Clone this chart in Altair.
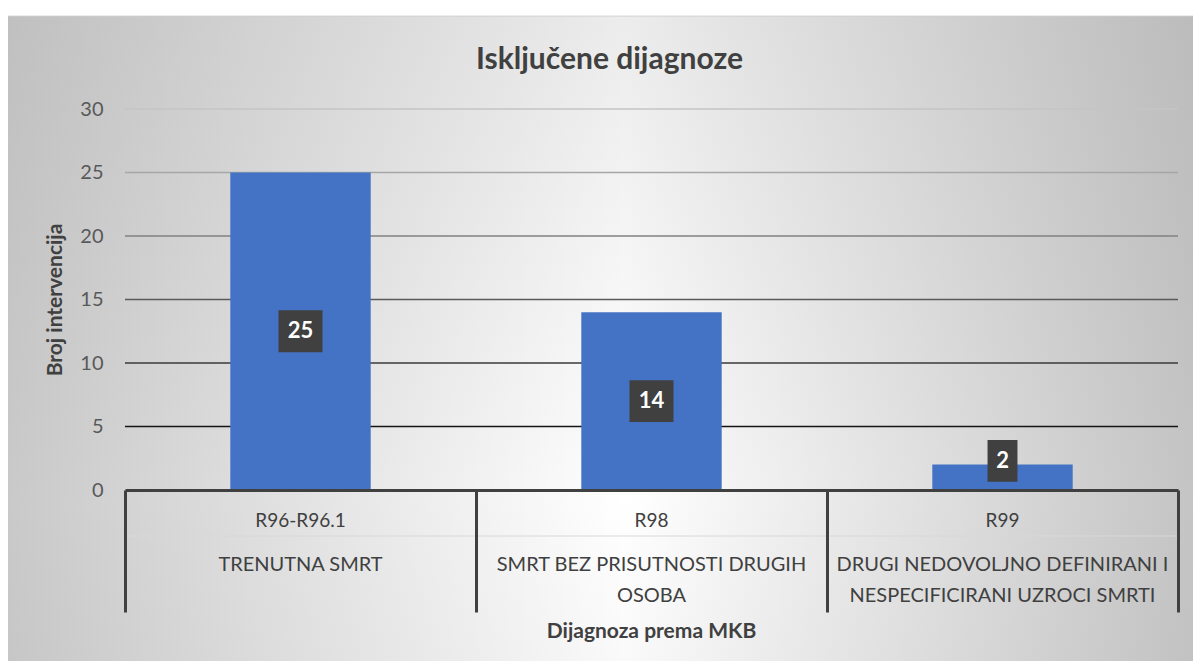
import altair as alt
import pandas as pd

codes = ["R96-R96.1", "R98", "R99"]
descriptions = [
    "TRENUTNA SMRT",
    "SMRT BEZ PRISUTNOSTI DRUGIH\nOSOBA",
    "DRUGI NEDOVOLJNO DEFINIRANI I\nNESPECIFICIRANI UZROCI SMRTI",
]
values = [25, 14, 2]
y_ticks = [0, 5, 10, 15, 20, 25, 30]

title_text = "Isključene dijagnoze"
y_title = "Broj intervencija"
x_title = "Dijagnoza prema MKB"

FONT = "Lato"
W, H = 1053, 381

df = pd.DataFrame({"code": codes, "desc": descriptions, "value": values})
df["ndig"] = [str(len(str(v))) for v in values]
grid_df = pd.DataFrame({"tick": y_ticks[1:]})

xscale = alt.Scale(domain=codes, paddingInner=0, paddingOuter=0)
yscale = alt.Scale(domain=[0, 30], nice=False)

one = alt.Data(values=[{"a": 1}])

bg_h = alt.Chart(one).mark_rect(
    fill=alt.LinearGradient(
        gradient="linear", x1=0, x2=1, y1=0, y2=0,
        stops=[alt.GradientStop(offset=0, color="#c9c9c9"),
               alt.GradientStop(offset=0.52, color="#ffffff"),
               alt.GradientStop(offset=1, color="#c4c4c4")]),
    stroke="#d9d9d9", strokeWidth=1,
).encode(x=alt.value(-120), x2=alt.value(1071), y=alt.value(-93), y2=alt.value(554))

bg_v = alt.Chart(one).mark_rect(
    fill=alt.LinearGradient(
        gradient="linear", x1=0, x2=0, y1=0, y2=1,
        stops=[alt.GradientStop(offset=0, color="rgba(150,150,150,0.18)"),
               alt.GradientStop(offset=0.75, color="rgba(150,150,150,0)"),
               alt.GradientStop(offset=1, color="rgba(150,150,150,0.05)")]),
).encode(x=alt.value(-120), x2=alt.value(1071), y=alt.value(-93), y2=alt.value(554))

grid = alt.Chart(grid_df).mark_rule(strokeWidth=1.6).encode(
    y=alt.Y("tick:Q", scale=yscale),
    x=alt.value(0), x2=alt.value(W),
    color=alt.Color("tick:Q", legend=None,
                    scale=alt.Scale(domain=[5, 10, 15, 20, 25, 30],
                                    range=["#151515", "#3a3a3a", "#5a5a5a", "#808080", "#a6a6a6", "#c4c4c4"])),
)

bars = alt.Chart(df).mark_bar(color="#4472C4", width={"band": 0.4}).encode(
    x=alt.X("code:N", scale=xscale, sort=codes,
            axis=alt.Axis(labels=False, title=None, ticks=True, tickBand="extent",
                          tickSize=122, tickWidth=3, tickColor="#404040",
                          domainColor="#404040", domainWidth=3, grid=False, zindex=1)),
    y=alt.Y("value:Q", scale=yscale,
            axis=alt.Axis(values=y_ticks, labelFontSize=20, labelColor="#595959",
                          labelFont=FONT, labelPadding=22, ticks=False, domain=False,
                          title=y_title, titleFont=FONT, titleFontSize=21,
                          titleFontWeight="bold", titleColor="#404040", titlePadding=14,
                          grid=False, zindex=1)),
)

wide = "M-1,-0.95H1V0.95H-1Z"
narrow = "M-0.68,-0.95H0.68V0.95H-0.68Z"

label_base = alt.Chart(df).transform_calculate(
    ly="max(datum.value / 2, 2.3)"
)

boxes = label_base.mark_point(filled=True, opacity=1, color="#404040", size=1936).encode(
    x=alt.X("code:N", scale=xscale, sort=codes),
    y=alt.Y("ly:Q", scale=yscale),
    shape=alt.Shape("ndig:N", scale=alt.Scale(domain=["1", "2"], range=[narrow, wide]), legend=None),
)

label_text = label_base.mark_text(
    font=FONT, fontSize=22, fontWeight="bold", color="white", baseline="middle"
).encode(
    x=alt.X("code:N", scale=xscale, sort=codes),
    y=alt.Y("ly:Q", scale=yscale),
    text=alt.Text("value:Q"),
)

code_text = alt.Chart(df).mark_text(
    font=FONT, fontSize=19, color="#404040", baseline="middle"
).encode(
    x=alt.X("code:N", scale=xscale, sort=codes),
    y=alt.value(H + 31),
    text="code:N",
)

desc_text = alt.Chart(df).mark_text(
    font=FONT, fontSize=20, color="#404040", baseline="top", lineBreak="\n", lineHeight=31
).encode(
    x=alt.X("code:N", scale=xscale, sort=codes),
    y=alt.value(H + 65),
    text="desc:N",
)

sep_line = alt.Chart(one).mark_rule(color="#d8d8d8", strokeWidth=1).encode(
    x=alt.value(0), x2=alt.value(W), y=alt.value(H + 46)
)

title_mark = alt.Chart(one).mark_text(
    font=FONT, fontSize=30, fontWeight="bold", color="#404040", baseline="middle"
).encode(x=alt.value(W / 2 - 42), y=alt.value(-49), text=alt.value(title_text))

xtitle_mark = alt.Chart(one).mark_text(
    font=FONT, fontSize=21, fontWeight="bold", color="#404040", baseline="middle"
).encode(x=alt.value(W / 2), y=alt.value(H + 142), text=alt.value(x_title))

chart = alt.layer(
    bg_h, bg_v, sep_line, grid, bars, boxes, label_text, code_text, desc_text, title_mark, xtitle_mark
).resolve_scale(color="independent").properties(
    width=W, height=H,
    autosize=alt.AutoSizeParams(type="none"),
    padding={"left": 117, "top": 101, "right": 15, "bottom": 171},
).configure_view(stroke=None)

chart.save("out.html", embed_options={"renderer": "svg", "actions": False})
